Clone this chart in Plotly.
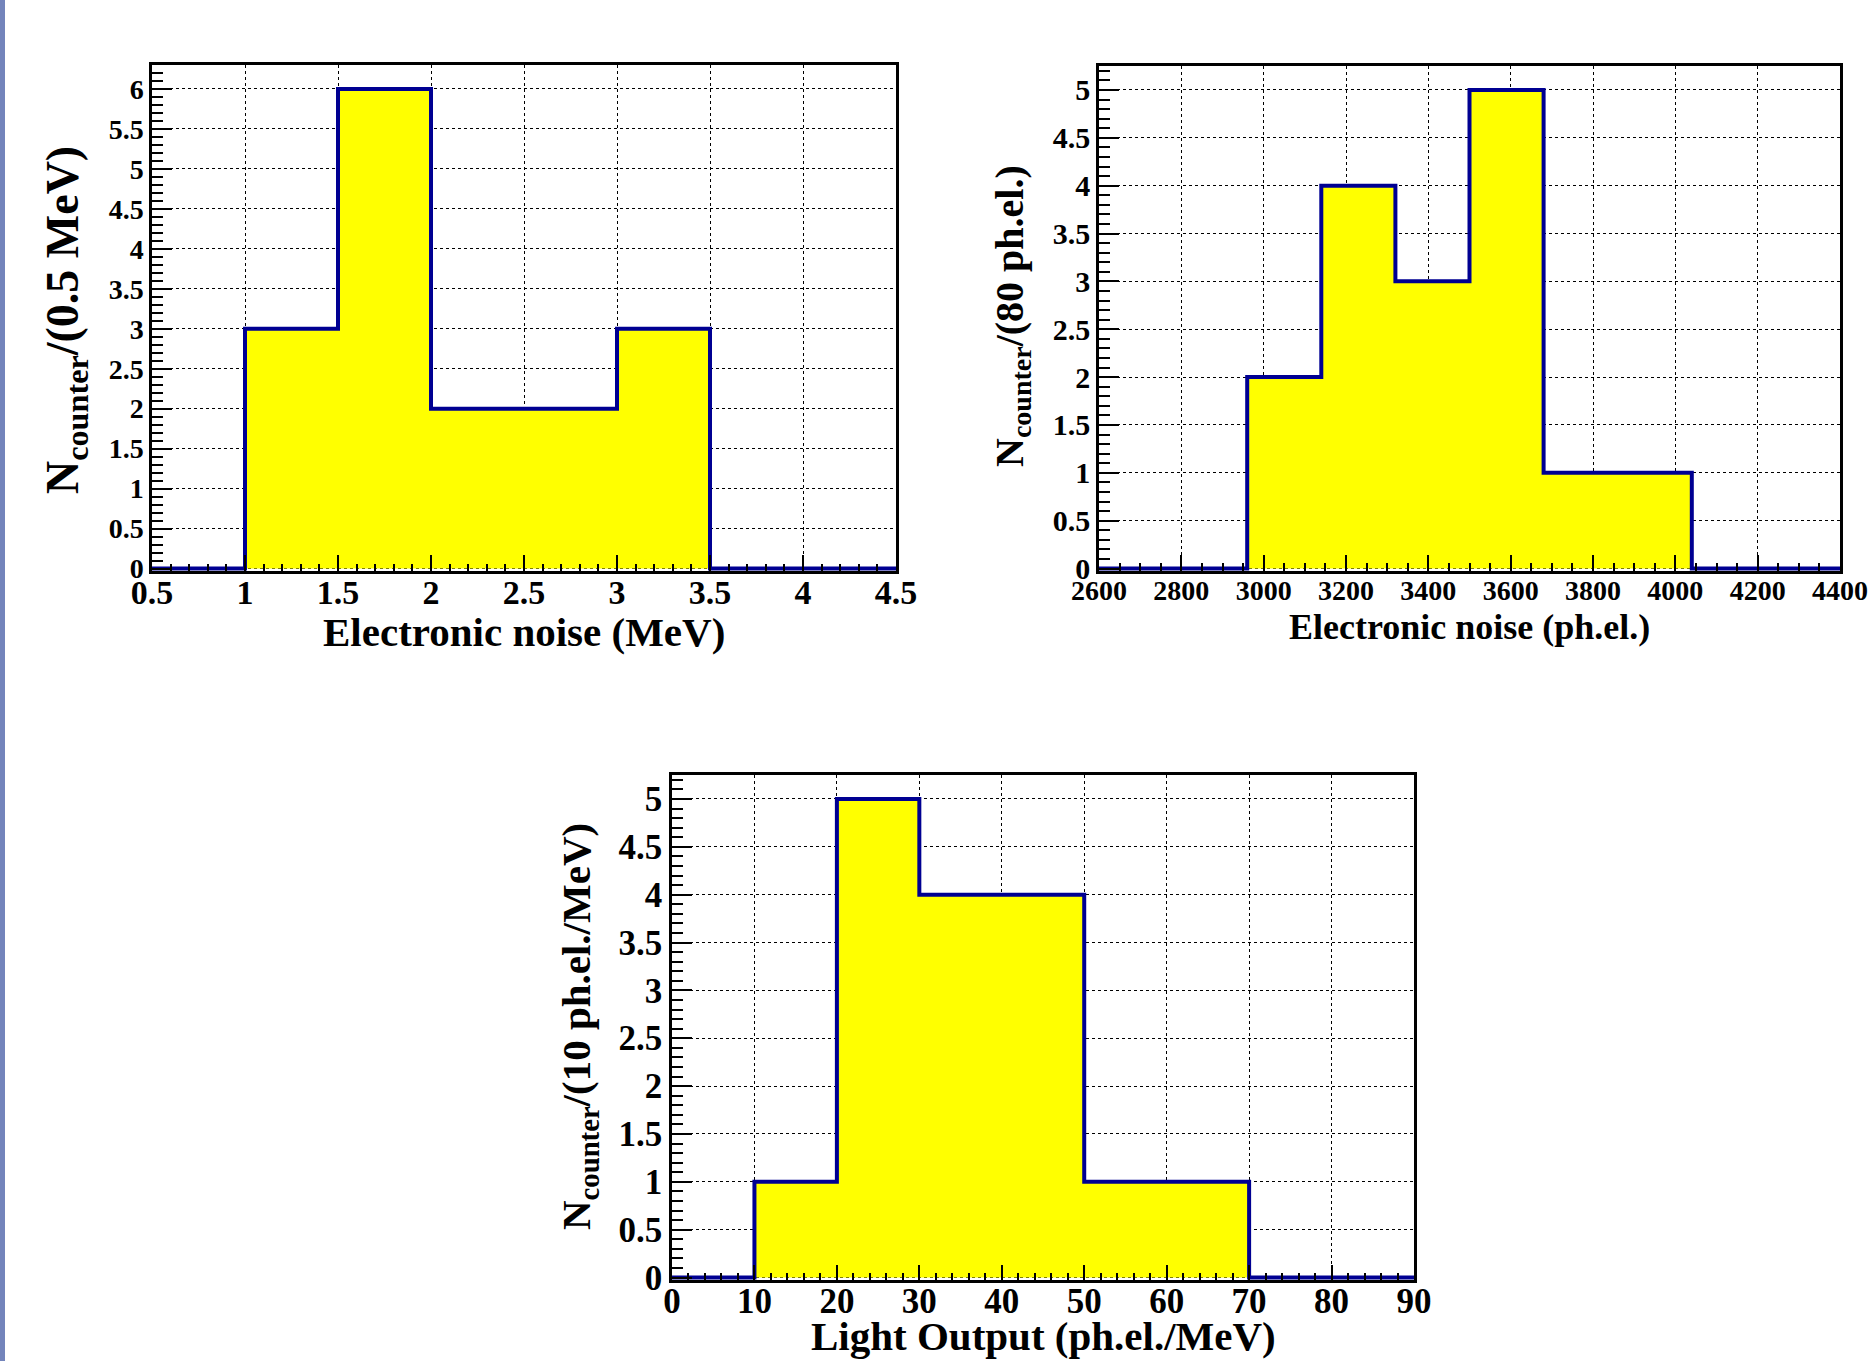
import plotly.graph_objects as go

W, H = 1872, 1361

# ---------------- data ----------------
edges1 = [0.5, 1.0, 1.5, 2.0, 2.5, 3.0, 3.5, 4.0, 4.5]
counts1 = [0, 3, 6, 2, 2, 3, 0, 0]

edges2 = [2600, 2780, 2960, 3140, 3320, 3500, 3680, 3860, 4040, 4220, 4400]
counts2 = [0, 0, 2, 4, 3, 5, 1, 1, 0, 0]

edges3 = [0, 10, 20, 30, 40, 50, 60, 70, 80, 90]
counts3 = [0, 1, 5, 4, 4, 1, 1, 0, 0]

xtitle1 = "Electronic noise (MeV)"
ytitle1 = "N<sub>counter</sub>/(0.5 MeV)"
xtitle2 = "Electronic noise (ph.el.)"
ytitle2 = "N<sub>counter</sub>/(80 ph.el.)"
xtitle3 = "Light Output (ph.el./MeV)"
ytitle3 = "N<sub>counter</sub>/(10 ph.el./MeV)"

# ---------------- style ----------------
FONT = "Liberation Serif"
LINE_BLUE = "#000092"
FILL = "#ffff00"

# pixel boxes (left, right, top, bottom)
boxes = [
    (152, 896, 65, 571),
    (1099, 1840, 66, 571),
    (672, 1414, 775, 1280),
]


def dom(b):
    l, r, t, btm = b
    return [l / W, r / W], [1 - btm / H, 1 - t / H]


fig = go.Figure()

hists = [(edges1, counts1), (edges2, counts2), (edges3, counts3)]
for i, (e, c) in enumerate(hists):
    sfx = "" if i == 0 else str(i + 1)
    fig.add_trace(go.Scatter(
        x=e, y=list(c) + [c[-1]],
        mode="lines", line=dict(shape="hv", color=LINE_BLUE, width=4),
        fill="tozeroy", fillcolor=FILL,
        xaxis="x" + sfx, yaxis="y" + sfx, showlegend=False, hoverinfo="skip",
    ))

ymax = [6.3, 5.25, 5.25]
xcfg = [
    dict(range=[0.5, 4.5], tick0=0.5, dtick=0.5, mdt=0.1, tl=16, mtl=7, fs=34, fmt=None, so=-11),
    dict(range=[2600, 4400], tick0=2600, dtick=200, mdt=50, tl=16, mtl=8, fs=28, fmt="d", so=-7),
    dict(range=[0, 90], tick0=0, dtick=10, mdt=2, tl=15, mtl=7, fs=35, fmt="d", so=-12),
]
yfs = [28, 30, 35]

layout = dict(
    width=W, height=H, margin=dict(l=0, r=0, t=0, b=0, pad=0, autoexpand=False),
    autosize=False,
    paper_bgcolor="white", plot_bgcolor="white", showlegend=False,
    font=dict(family=FONT, color="black"),
)

for i in range(3):
    sfx = "" if i == 0 else str(i + 1)
    xd, yd = dom(boxes[i])
    xc = xcfg[i]
    span = ymax[i]
    pxu = (boxes[i][3] - boxes[i][2]) / span
    ymin = -2.5 / pxu
    xa = dict(
        domain=xd, anchor="y" + sfx, range=xc["range"], automargin=False,
        tick0=xc["tick0"], dtick=xc["dtick"],
        ticks="inside", ticklen=xc["tl"], tickwidth=1.5, tickcolor="black",
        ticklabelstandoff=xc["so"],
        minor=dict(dtick=xc["mdt"], tick0=xc["tick0"], ticks="inside",
                   ticklen=xc["mtl"], tickwidth=1.5, tickcolor="black", showgrid=False),
        showgrid=True, gridcolor="black", griddash="dot", gridwidth=1,
        showline=True, linecolor="black", linewidth=2.5, mirror=True,
        zeroline=False, layer="above traces",
        tickfont=dict(family=FONT, size=xc["fs"], color="black", weight="bold"),
        fixedrange=True,
    )
    if xc["fmt"]:
        xa["tickformat"] = xc["fmt"]
    ya = dict(
        domain=yd, anchor="x" + sfx, range=[ymin, span], automargin=False,
        tick0=0, dtick=0.5,
        ticks="inside", ticklen=20, tickwidth=1.5, tickcolor="black",
        minor=dict(dtick=0.1, tick0=0, ticks="inside", ticklen=11,
                   tickwidth=1.5, tickcolor="black", showgrid=False),
        showgrid=True, gridcolor="black", griddash="dot", gridwidth=1,
        showline=True, linecolor="black", linewidth=2.5, mirror=True,
        zeroline=False, layer="above traces",
        tickfont=dict(family=FONT, size=yfs[i], color="black", weight="bold"),
        fixedrange=True,
    )
    layout["xaxis" + sfx] = xa
    layout["yaxis" + sfx] = ya

fig.update_layout(**layout)

# axis titles (pixel centres)
titles = [
    (xtitle1, 524, 632, 0, 41),
    (ytitle1, 66, 320, -90, 46),
    (xtitle2, 1469, 627, 0, 36),
    (ytitle2, 1012, 316, -90, 40),
    (xtitle3, 1043, 1336, 0, 41),
    (ytitle3, 579, 1027, -90, 41),
]
for txt, px, py, ang, fs in titles:
    fig.add_annotation(
        text=txt, x=px / W, y=1 - py / H, xref="paper", yref="paper",
        xanchor="center", yanchor="middle", showarrow=False, textangle=ang,
        font=dict(family=FONT, size=fs, color="black", weight="bold"),
    )

# left edge strip
fig.add_shape(type="rect", xref="paper", yref="paper", x0=0, x1=5 / W, y0=0, y1=1,
              fillcolor="#7384bb", line=dict(width=0), layer="above")

fig.write_html(
    "out.html",
    config={"displayModeBar": False, "responsive": False},
    post_script="document.body.style.margin='0';document.body.style.overflow='hidden';",
)
